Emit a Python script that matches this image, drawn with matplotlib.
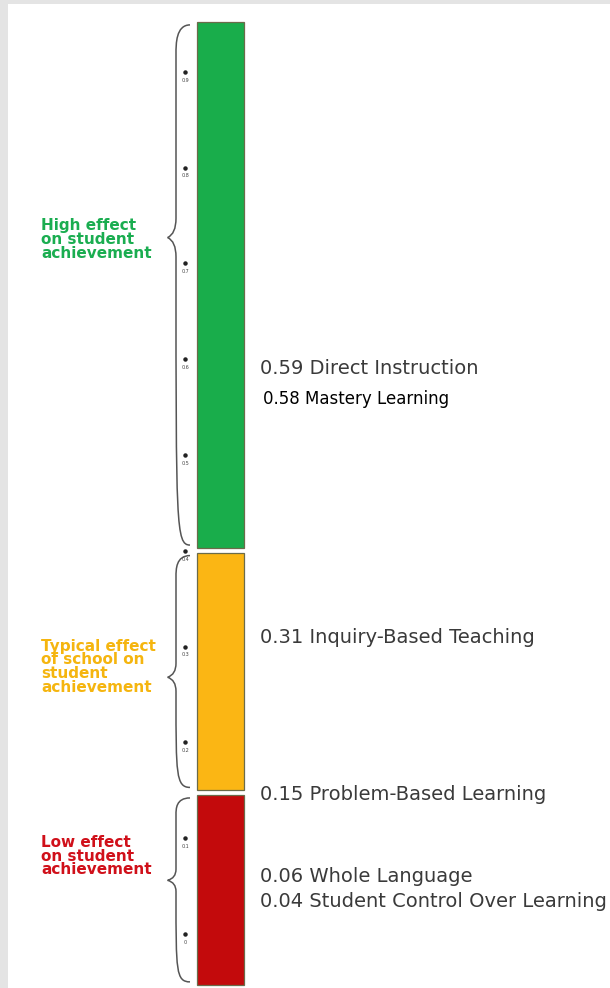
import matplotlib

matplotlib.use("Agg")
import matplotlib.pyplot as plt
from matplotlib.path import Path
from matplotlib.patches import PathPatch, Rectangle

# effect-size zones (bottom, top)
zone_names = ["High effect\non student\nachievement",
              "Typical effect\nof school on\nstudent\nachievement",
              "Low effect\non student\nachievement"]
zone_bottom = [0.403, 0.150, -0.053]
zone_top = [0.952, 0.398, 0.145]
zone_tip = [0.727, 0.268, 0.056]
zone_label_y = [0.725, 0.279, 0.081]
zone_colors = ["#19ad4b", "#fbb614", "#c30a0c"]
zone_text_colors = ["#1aad50", "#f5b50f", "#d0101a"]

tick_values = [0.9, 0.8, 0.7, 0.6, 0.5, 0.4, 0.3, 0.2, 0.1, 0.0]
tick_labels = ["0.9", "0.8", "0.7", "0.6", "0.5", "0.4", "0.3", "0.2", "0.1", "0"]

effects = [0.59, 0.58, 0.31, 0.15, 0.06, 0.04]
methods = ["Direct Instruction", "Mastery Learning", "Inquiry-Based Teaching",
           "Problem-Based Learning", "Whole Language", "Student Control Over Learning"]


def brace(ax, x, y0, y1, ym, depth, color="#555555"):
  # curly brace opening to the right, cusp pointing left at ym
  k = min(0.02, (y1 - y0) * 0.06)
  verts = [
    (x + depth, y1),
    (x, y1), (x, y1 - k), (x, y1 - k * 1.5),
    (x, ym + k), (x, ym + k * 0.2), (x - depth * 0.6, ym),
    (x, ym - k * 0.2), (x, ym - k), (x, ym - k * 1.5),
    (x, y0 + k), (x, y0), (x + depth, y0),
  ]
  codes = [Path.MOVETO] + [Path.CURVE4] * 3 + [Path.LINETO] + [Path.CURVE3] * 2 \
    + [Path.CURVE3] * 2 + [Path.LINETO] + [Path.CURVE4] * 3
  ax.add_patch(PathPatch(Path(verts, codes), fill=False, edgecolor=color, lw=1.1))


fig = plt.figure(figsize=(6.1, 9.88), dpi=100)
fig.patch.set_facecolor("#e4e4e4")

ax = fig.add_axes([0, 0, 1, 1])
ax.set_facecolor("none")
ax.set_xlim(0, 610)
ax.set_ylim(-0.0564, 0.975)
ax.axis("off")
ax.add_patch(Rectangle((8 / 610, 0), 1, 1 - 4 / 988, transform=fig.transFigure,
                       facecolor="white", edgecolor="none", zorder=0))

# coloured scale bars
ax.bar([220] * 3, [t - b for t, b in zip(zone_top, zone_bottom)], bottom=zone_bottom,
       width=47, color=zone_colors, edgecolor="#6b6b4a", linewidth=0.9, zorder=2)

# braces and zone titles
for name, b, t, tip, ly, c in zip(zone_names, zone_bottom, zone_top, zone_tip,
                                  zone_label_y, zone_text_colors):
  brace(ax, 176, b + 0.003, t - 0.003, tip, 14)
  ax.text(41, ly, name, color=c, fontsize=11, fontweight="bold",
          ha="left", va="center", linespacing=0.88)

# scale ticks: dot with tiny label
for v, lab in zip(tick_values, tick_labels):
  ax.plot(185, v, "o", color="#222222", ms=2.2, zorder=3)
  ax.text(185, v - 0.006, lab, fontsize=3.5, color="#444444", ha="center", va="top")

# method labels
nudge = {"Mastery Learning": -0.022, "Problem-Based Learning": -0.004,
         "Student Control Over Learning": -0.006}
for e, m in zip(effects, methods):
  y = e + nudge.get(m, 0.0)
  if m == "Mastery Learning":
    ax.text(263, y, f"{e:.2f} {m}", fontsize=12, color="black", ha="left", va="center")
  else:
    ax.text(260, y, f"{e:.2f} {m}", fontsize=14, color="#3a3a3a", ha="left", va="center")

fig.savefig("out.png", dpi=100)
